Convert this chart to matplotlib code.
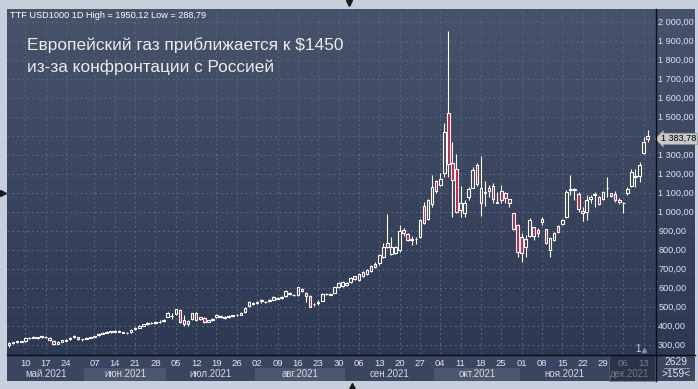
import numpy as np
import pandas as pd
import matplotlib
matplotlib.use("Agg")
import matplotlib.pyplot as plt
from matplotlib.patches import Rectangle
from matplotlib.lines import Line2D
from matplotlib.transforms import blended_transform_factory as blend

# trading days on the chart (the feed has a few days missing around end of May)
dates = pd.bdate_range("2021-05-04", "2021-12-14")
dates = dates.drop(pd.to_datetime(["2021-05-31", "2021-06-01", "2021-06-02"]))

opens = [300, 308, 313, 318, 318, 334, 337, 340, 338, 343,
         336, 322, 304, 316, 322, 328, 338, 340, 328, 330,
         336, 340, 350, 358, 363, 371, 369, 374, 366, 362,
         366, 380, 390, 400, 408, 412, 414, 418, 424, 447,
         450, 460, 483, 430, 409, 434, 468, 433, 442, 422,
         430, 444, 450, 446, 444, 450, 454, 458, 472, 502,
         520, 518, 534, 524, 530, 553, 546, 545, 556, 568,
         560, 562, 595, 574, 556, 512, 520, 532, 566, 568,
         574, 602, 608, 625, 628, 660, 640, 660, 670, 689,
         725, 728, 763, 834, 777, 785, 800, 904, 883, 853,
         854, 866, 1030, 962, 1040, 1161, 1140, 1202, 1518, 1254,
         1225, 1009, 992, 1079, 1126, 1246, 1044, 1098, 1110, 1135,
         1048, 1109, 1100, 1065, 992, 930, 865, 813, 872, 918,
         904, 948, 907, 798, 851, 925, 935, 974, 1116, 1116,
         1092, 1004, 1000, 1065, 1088, 1079, 1065, 1123, 1097, 1092,
         1062, 1046, 1097, 1135, 1182, 1187, 1307, 1400]
highs = [312, 316, 322, 322, 338, 341, 344, 342, 348, 346,
         338, 324, 320, 326, 330, 340, 350, 342, 332, 340,
         342, 348, 360, 366, 370, 374, 378, 376, 368, 368,
         382, 392, 404, 410, 418, 420, 424, 428, 434, 470,
         468, 490, 488, 456, 428, 468, 472, 448, 446, 432,
         440, 460, 455, 450, 455, 458, 462, 470, 498, 528,
         525, 532, 538, 532, 540, 556, 550, 554, 588, 575,
         566, 606, 600, 578, 560, 522, 535, 572, 572, 572,
         605, 630, 634, 632, 656, 664, 676, 688, 700, 718,
         735, 776, 834, 988, 865, 820, 930, 912, 888, 872,
         868, 960, 1053, 1066, 1193, 1165, 1202, 1468, 1950.12, 1365,
         1304, 1135, 1062, 1131, 1237, 1258, 1292, 1161, 1140, 1149,
         1105, 1140, 1105, 1065, 995, 935, 890, 877, 965, 921,
         912, 974, 910, 865, 895, 930, 962, 1114, 1193, 1123,
         1105, 1023, 1088, 1088, 1105, 1085, 1110, 1184, 1100, 1110,
         1070, 1053, 1130, 1223, 1223, 1263, 1392, 1430]
lows = [288.79, 304, 310, 312, 316, 330, 333, 331, 335, 336,
        320, 296, 302, 313, 318, 326, 335, 326, 322, 328,
        333, 338, 348, 355, 360, 364, 366, 366, 360, 358,
        364, 377, 388, 396, 405, 408, 411, 414, 420, 444,
        434, 456, 412, 401, 399, 430, 426, 428, 414, 418,
        426, 440, 440, 436, 440, 446, 450, 455, 468, 498,
        508, 514, 522, 520, 526, 533, 538, 542, 552, 562,
        556, 558, 575, 526, 496, 506, 510, 528, 560, 560,
        570, 598, 604, 608, 624, 640, 636, 656, 666, 685,
        705, 722, 758, 808, 770, 775, 790, 872, 845, 825,
        832, 860, 935, 955, 1027, 1100, 1135, 1184, 1184, 974,
        992, 971, 971, 1062, 1123, 1137, 977, 1032, 1075, 1047,
        1044, 1047, 1047, 1026, 905, 763, 737, 763, 865, 851,
        865, 930, 830, 760, 845, 890, 930, 965, 1088, 1062,
        1000, 953, 956, 1044, 1026, 1035, 1060, 1079, 1075, 1050,
        1040, 995, 1090, 1128, 1131, 1158, 1304, 1368]
closes = [308, 313, 318, 316, 334, 337, 340, 336, 344, 341,
          324, 302, 316, 323, 327, 336, 345, 330, 329, 337,
          339, 344, 358, 363, 367, 367, 374, 369, 364, 363,
          378, 388, 400, 407, 413, 416, 418, 421, 430, 468,
          452, 486, 417, 407, 426, 465, 430, 445, 418, 428,
          436, 458, 448, 442, 450, 454, 458, 466, 495, 525,
          512, 527, 528, 527, 536, 535, 541, 550, 583, 571,
          563, 602, 580, 556, 500, 515, 527, 567, 568, 564,
          602, 626, 630, 612, 650, 645, 672, 683, 695, 714,
          710, 772, 813, 813, 813, 813, 898, 886, 851, 856,
          856, 956, 942, 1062, 1131, 1110, 1172, 1418, 1251, 1167,
          997, 1047, 1047, 1119, 1219, 1144, 1123, 1102, 1123, 1065,
          1053, 1061, 1070, 1044, 910, 790, 784, 855, 956, 872,
          886, 960, 837, 860, 890, 895, 956, 1105, 1120, 1118,
          1013, 992, 1061, 1079, 1091, 1040, 1105, 1126, 1084, 1062,
          1051, 1048, 1118, 1207, 1186, 1245, 1368, 1383.78]

header = "TTF USD1000 1D High = 1950,12 Low = 288,79"
title_lines = ["Европейский газ приближается к $1450",
               "из-за конфронтации с Россией"]
month_names = ["янв", "фев", "мар", "апр", "май", "июн",
               "июл", "авг", "сен", "окт", "ноя", "дек"]
y_ticks = list(range(300, 2001, 100))
bars_info = ["2629", ">159<"]

W, H = 698, 389


def fx(px):
    return px / W


def fy(py):
    return 1 - py / H


def fmt(v):
    return f"{v:,.2f}".replace(",", " ").replace(".", ",")


plt.rcParams["font.family"] = ["Liberation Sans", "DejaVu Sans"]

fig = plt.figure(figsize=(W / 100, H / 100), dpi=100, facecolor="#c6cfdb")

# dark panel with vertical gradient
top_c = np.array([0x47, 0x52, 0x6b]) / 255
bot_c = np.array([0x2b, 0x36, 0x50]) / 255
bg = fig.add_axes([fx(7), fy(381), (695 - 7) / W, (381 - 9) / H], zorder=-1)
t = np.linspace(0, 1, 256)[:, None]
grad = top_c * (1 - t) + bot_c * t
bg.imshow(grad[:, None, :], aspect="auto", extent=[0, 1, 0, 1])
bg.set_axis_off()

# date axis strip
fig.patches.append(Rectangle((fx(7), fy(381)), (695 - 7) / W, (381 - 355) / H,
                             transform=fig.transFigure, fc="#3a4660", ec="none", zorder=1))

ax = fig.add_axes([fx(7), fy(354), 648 / W, 345 / H], zorder=2)
ax.set_facecolor("none")
ymin, ymax = 251, 2067
ax.set_xlim(-0.5, 158.8)
ax.set_ylim(ymin, ymax)
for s in ax.spines.values():
    s.set_visible(False)

x = np.arange(len(dates))
o, h, l, c = (np.array(a, dtype=float) for a in (opens, highs, lows, closes))
up = c >= o

# hollow bodies take the background colour at their height
mid_px = 9 + (ymax - (o + c) / 2) / (ymax - ymin) * 345
tt = ((mid_px - 9) / (381 - 9))[:, None]
hollow = top_c * (1 - tt) + bot_c * tt
faces = [tuple(hollow[i]) if up[i] else "#dc143c" for i in range(len(x))]

ax.vlines(x, l, h, color="white", lw=0.8, zorder=3)
ax.bar(x, c - o, bottom=o, width=0.64, color=faces, edgecolor="white",
       linewidth=0.8, zorder=4)

# grid, ticks (the price tag hides the scale label right under it)
mondays = [i for i, d in enumerate(dates) if d.weekday() == 0]
ax.set_xticks(mondays)
ax.set_xticklabels([f"{dates[i].day:02d}" for i in mondays])
ax.set_yticks(y_ticks)
ax.set_yticklabels(["" if abs(v - closes[-1]) < 40 else fmt(v) for v in y_ticks])
ax.yaxis.tick_right()
ax.set_axisbelow(True)
ax.grid(True, color="#5a667f", linestyle=(0, (2, 3)), linewidth=0.7)
ax.tick_params(length=0)
ax.tick_params(axis="y", pad=2.3, labelsize=6.6, labelcolor="#d8e6f8")
ax.tick_params(axis="x", pad=3.6, labelsize=6.8, labelcolor="#dde5ef")

# month row
tx = blend(ax.transData, fig.transFigure)
for (yr, m), grp in pd.Series(x, index=dates).groupby([dates.year, dates.month]):
    i0, i1 = grp.min() - 0.5, min(grp.max() + 0.5, 158.8)
    if m in (6, 8, 10):
        ax.add_patch(Rectangle((i0, fy(381)), i1 - i0, (381 - 368) / H, transform=tx,
                               fc="#4b576f", ec="none", clip_on=False, zorder=1))
    ax.text((i0 + i1) / 2, fy(374), f"{month_names[m - 1]}.{yr}", transform=tx,
            ha="center", va="center", fontsize=7, color="#d3dbe6", clip_on=False)
    if m == 12:
        ax.add_patch(Rectangle((i0, fy(381)), 158.8 - i0, (381 - 355) / H, transform=tx,
                               fc="#1c2639", alpha=0.55, ec="#6b7890", lw=0.6,
                               clip_on=False, zorder=6))

# last price marker on the price scale
ax.text(fx(661), closes[-1], fmt(closes[-1]), transform=blend(fig.transFigure, ax.transData),
        ha="left", va="center", fontsize=6.6, color="black", zorder=8, clip_on=False,
        bbox=dict(boxstyle="larrow,pad=0.12", fc="#c8c8c8", ec="#8e8e8e", lw=0.5))

# frame lines
fig.lines.append(Line2D([fx(655.5), fx(655.5)], [fy(9), fy(381)], transform=fig.transFigure,
                        color="#0b0e14", lw=1.0, zorder=5))
fig.lines.append(Line2D([fx(7), fx(695)], [fy(354.5), fy(354.5)], transform=fig.transFigure,
                        color="#0b0e14", lw=1.0, zorder=5))

# texts
fig.text(fx(10), fy(15), header, fontsize=6.6, color="white", va="center")
fig.text(fx(27), fy(45), title_lines[0], fontsize=12.4, color="#ececec", va="center")
fig.text(fx(27), fy(67), title_lines[1], fontsize=12.4, color="#ececec", va="center")

fig.text(fx(676), fy(362), bars_info[0], fontsize=7.4, color="#e0e6ee", ha="center", va="center")
fig.lines.append(Line2D([fx(664), fx(689)], [fy(367.5), fy(367.5)], transform=fig.transFigure,
                        color="#9aa6b8", lw=0.6))
fig.text(fx(676), fy(374), bars_info[1], fontsize=7.4, color="#e0e6ee", ha="center", va="center")

fig.text(fx(637.5), fy(348.5), "1", fontsize=7, color="#c9d3e0", ha="center", va="center")
fig.lines.append(Line2D([fx(644)], [fy(350)], marker="^", ms=3, color="#7f8a9a",
                        transform=fig.transFigure))

# scroll arrows on the outer frame
for px, py, mk in [(349, 3, "v"), (352, 386, "^"), (3, 193, ">")]:
    fig.lines.append(Line2D([fx(px)], [fy(py)], marker=mk, ms=4.5, color="#1a1a1a",
                            transform=fig.transFigure))

fig.savefig("out.png", dpi=100, facecolor=fig.get_facecolor())
